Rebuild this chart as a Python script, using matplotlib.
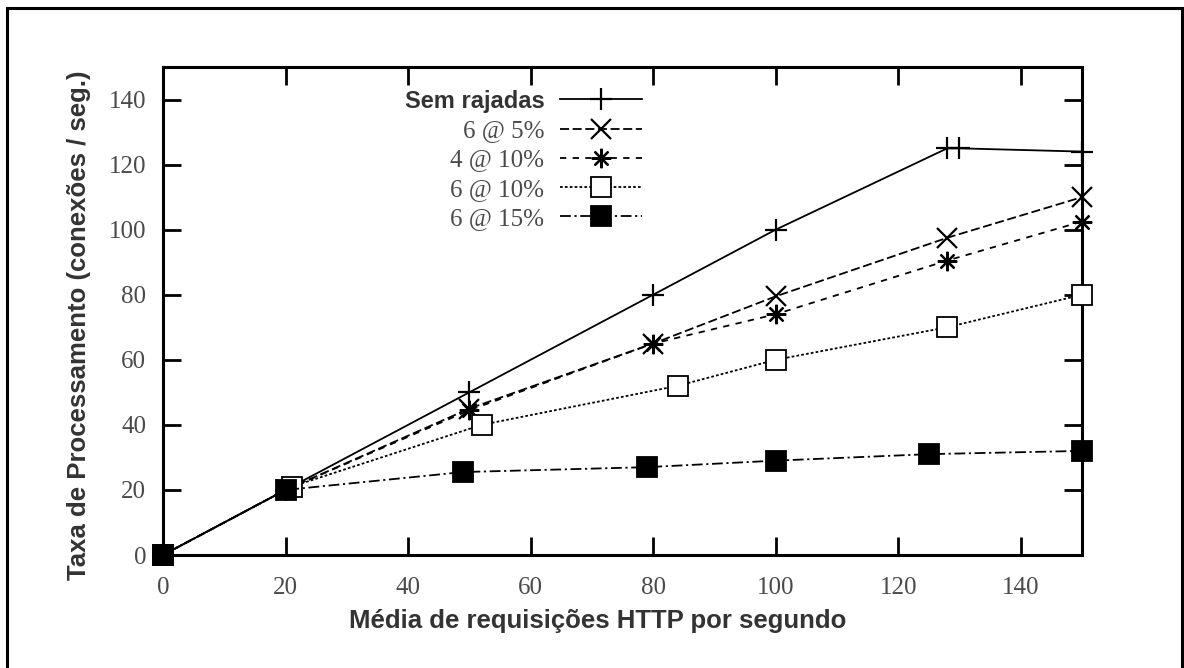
import matplotlib
matplotlib.use("Agg")
import matplotlib.pyplot as plt
from matplotlib.patches import Rectangle

# Throughput under bursty HTTP load
sem_x = [0, 20, 50, 80, 100, 128, 130, 150]
sem_y = [0, 20, 50, 80, 100, 125, 125, 124]

r6_5_x = [0, 20, 50, 80, 100, 128, 150]
r6_5_y = [0, 20, 45, 65, 79.5, 97.5, 110]

r4_10_x = [0, 20, 50, 80, 100, 128, 150]
r4_10_y = [0, 20, 44.5, 65, 74, 90.5, 102.5]

r6_10_x = [0, 21, 52, 84, 100, 128, 150]
r6_10_y = [0, 21, 40, 52, 60, 70, 80]

r6_15_x = [0, 20, 49, 79, 100, 125, 150]
r6_15_y = [0, 20, 25.5, 27, 29, 31, 32]

labels = ["Sem rajadas", "6 @ 5%", "4 @ 10%", "6 @ 10%", "6 @ 15%"]
xticks = [0, 20, 40, 60, 80, 100, 120, 140]
yticks = [0, 20, 40, 60, 80, 100, 120, 140]

fig = plt.figure(figsize=(11.84, 6.68), dpi=100)
ax = fig.add_axes([163 / 1184, 1 - 555 / 668, (1082 - 163) / 1184, (555 - 67) / 668])

lw = 1.3
ms = 14
common = dict(color="black", lw=lw, clip_on=False, zorder=3)
ax.plot(sem_x, sem_y, ls="-", marker="+", ms=ms + 2, mew=1.6, label=labels[0], **common)
ax.plot(r6_5_x, r6_5_y, ls=(0, (5, 2)), marker="x", ms=ms, mew=1.6, label=labels[1], **common)
ax.plot(r4_10_x, r4_10_y, ls=(0, (3.5, 3.5)), marker=(8, 2, 0), ms=ms, mew=1.6, label=labels[2], **common)
ax.plot(r6_10_x, r6_10_y, ls=(0, (1.5, 1.2)), marker="s", ms=ms, mew=1.3,
        mfc="white", label=labels[3], **common)
ax.plot(r6_15_x, r6_15_y, ls=(0, (6, 2, 1.2, 2)), marker="s", ms=ms, mew=1.3,
        mfc="black", label=labels[4], **common)

ax.set_xlim(0, 150)
ax.set_ylim(0, 150)
ax.set_xticks(xticks)
ax.set_yticks(yticks)

for s in ax.spines.values():
    s.set_linewidth(2.2)
ax.tick_params(direction="in", length=13, width=2, top=True, right=True,
               labelsize=18, labelcolor="#4a4a4a")
ax.tick_params(axis="x", pad=16)
ax.tick_params(axis="y", pad=12)
for t in ax.get_xticklabels() + ax.get_yticklabels():
    t.set_family("Liberation Serif")

ax.set_xlabel("Média de requisições HTTP por segundo", fontsize=18.5, fontweight="bold",
              family="Liberation Sans", color="#333333")
ax.set_ylabel("Taxa de Processamento (conexões / seg.)", fontsize=18.5, fontweight="bold",
              family="Liberation Sans", color="#333333")
ax.xaxis.set_label_coords(0.473, -0.11)
ax.yaxis.set_label_coords(-0.078, 0.471)

leg = ax.legend(loc="upper right", bbox_to_anchor=(642 / 1184, 1 - 90 / 668),
                bbox_transform=fig.transFigure, frameon=False, markerfirst=False,
                borderpad=0, borderaxespad=0, handlelength=3.3, handletextpad=0.6,
                labelspacing=0.27, prop={"family": "Liberation Serif", "size": 18})
for i, t in enumerate(leg.get_texts()):
    t.set_color("#4a4a4a")
    if i == 0:
        t.set_family("Liberation Sans")
        t.set_fontweight("bold")
        t.set_fontsize(17)
        t.set_color("#333333")

# frame around the whole figure
fig.patches.append(Rectangle((7 / 1184, -0.05), 1175 / 1184, 1.05 - 8 / 668,
                             transform=fig.transFigure, fill=False,
                             lw=2.2, ec="black"))

fig.savefig("out.png", dpi=100)
